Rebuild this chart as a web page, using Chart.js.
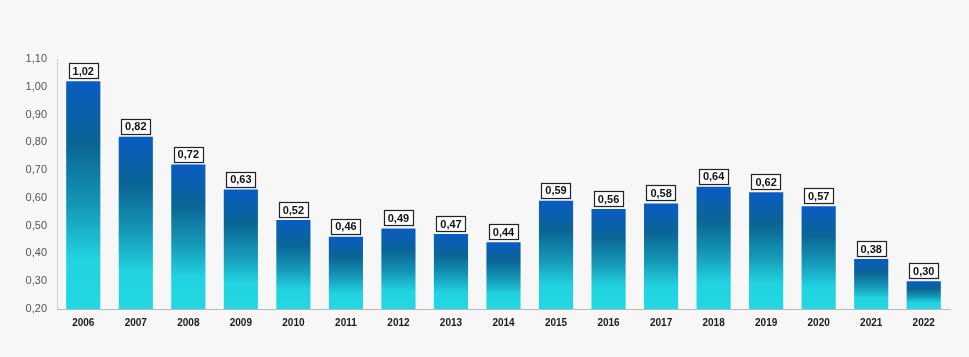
<!DOCTYPE html>
<html><head><meta charset="utf-8">
<script src="https://cdn.jsdelivr.net/npm/chart.js@4/dist/chart.umd.min.js"></script>
<style>html,body{margin:0;padding:0;background:#f7f7f7;}#wrap{width:969px;height:357px;}</style>
</head><body><div id="wrap"><canvas id="c" width="969" height="357"></canvas></div>
<script>
const years = ['2006','2007','2008','2009','2010','2011','2012','2013','2014','2015','2016','2017','2018','2019','2020','2021','2022'];
const values = [1.02,0.82,0.72,0.63,0.52,0.46,0.49,0.47,0.44,0.59,0.56,0.58,0.64,0.62,0.57,0.38,0.30];
const yMin = 0.2, yMax = 1.1, yStep = 0.1;
const fmt = v => v.toFixed(2).replace('.', ',');

function barGradient(ctx) {
  const chart = ctx.chart;
  const ys = chart.scales.y;
  if (!ys || ctx.raw == null) return '#1a9fd0';
  const top = ys.getPixelForValue(ctx.raw);
  const bottom = ys.getPixelForValue(yMin);
  if (!isFinite(top) || !isFinite(bottom) || top === bottom) return '#1a9fd0';
  const g = chart.ctx.createLinearGradient(0, top, 0, bottom);
  g.addColorStop(0, '#0a5cc2');
  g.addColorStop(0.28, '#0a6595');
  g.addColorStop(0.55, '#1598b8');
  g.addColorStop(0.78, '#22d2e0');
  g.addColorStop(1, '#22d8e2');
  return g;
}

const labelPlugin = {
  id: 'boxLabels',
  afterDatasetsDraw(chart) {
    const c = chart.ctx;
    const meta = chart.getDatasetMeta(0);
    c.save();
    c.font = 'bold 11px "Liberation Sans", Arial, sans-serif';
    c.textAlign = 'center';
    c.textBaseline = 'middle';
    meta.data.forEach((bar, i) => {
      const txt = fmt(values[i]);
      const w = c.measureText(txt).width + 8;
      const h = 15;
      const x = bar.x, yb = bar.y - 3;
      c.fillStyle = '#ffffff';
      c.fillRect(Math.round(x - w/2)+0.5, Math.round(yb - h)+0.5, Math.round(w), h);
      c.strokeStyle = '#222';
      c.lineWidth = 1.2;
      c.strokeRect(Math.round(x - w/2)+0.5, Math.round(yb - h)+0.5, Math.round(w), h);
      c.fillStyle = '#111';
      c.fillText(txt, x, yb - h/2 + 1);
    });
    c.restore();
  }
};

const chart = new Chart(document.getElementById('c'), {
  type: 'bar',
  data: { labels: years, datasets: [{ data: values, backgroundColor: barGradient, borderWidth: 0, barPercentage: 0.65, categoryPercentage: 1 }] },
  options: {
    responsive: false, animation: false, devicePixelRatio: 1,
    layout: { padding: { top: 59, right: 19, left: 0, bottom: 0 } },
    plugins: { legend: { display: false }, tooltip: { enabled: false } },
    scales: {
      x: {
        grid: { display: false, drawTicks: false },
        border: { color: '#b8b8b8', width: 1 },
        ticks: { color: '#1a1a1a', font: { size: 10, weight: 'bold', family: '"Liberation Sans", Arial, sans-serif' }, padding: 8, maxRotation: 0 },
        afterFit(s) { s.height = 48; }
      },
      y: {
        min: yMin, max: yMax,
        grid: { display: false, drawTicks: false },
        border: { color: '#d0d0d0', width: 1 },
        ticks: { stepSize: yStep, color: '#555', font: { size: 11, family: '"Liberation Sans", Arial, sans-serif' }, padding: 10, callback: v => fmt(v) },
        afterFit(s) { s.width = 57; }
      }
    }
  },
  plugins: [labelPlugin]
});
chart.update();
</script></body></html>
